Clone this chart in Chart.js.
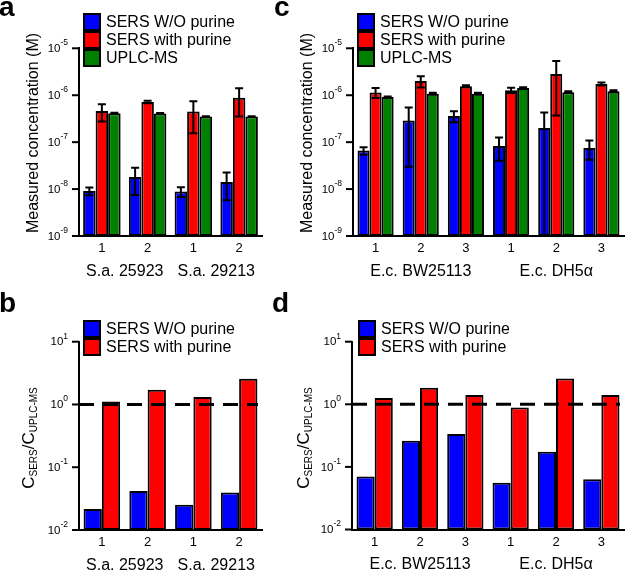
<!DOCTYPE html>
<html>
<head>
<meta charset="utf-8">
<script src="https://cdn.jsdelivr.net/npm/chart.js@4.4.1/dist/chart.umd.min.js"></script>
<style>
  body { margin: 0; background: #fff; }
  #page { position: relative; width: 627px; height: 571px; overflow: hidden; font-family: "Liberation Sans", Arial, sans-serif; color: #000; }
  canvas { position: absolute; }
  .letter { position: absolute; font-size: 28px; font-weight: bold; line-height: 28px; }
  .ytitle { position: absolute; white-space: nowrap; font-size: 16px; line-height: 18px; transform: translate(-50%, -50%) rotate(-90deg); }
  .ytitle .big { font-size: 17px; }
  .ytitle sub { font-size: 10px; vertical-align: -3px; }
  .lg-row { position: absolute; height: 18px; font-size: 16px; line-height: 18px; white-space: nowrap; }
  .lg-box { position: absolute; left: 0; top: 0; width: 18px; height: 18px; box-sizing: border-box; border: 2px solid #000; }
  .lg-text { position: absolute; left: 23px; top: 0; }
</style>
</head>
<body>
<div id="page">
  <canvas id="chartA" style="left:0px;top:0px"></canvas>
  <canvas id="chartC" style="left:300px;top:0px"></canvas>
  <canvas id="chartB" style="left:0px;top:290px"></canvas>
  <canvas id="chartD" style="left:300px;top:290px"></canvas>

  <div class="letter" style="left:-1px;top:-7px">a</div>
  <div class="letter" style="left:274px;top:-7px">c</div>
  <div class="letter" style="left:-1px;top:289px">b</div>
  <div class="letter" style="left:272px;top:289px">d</div>

  <div class="ytitle" style="left:33px;top:133px">Measured concentration (M)</div>
  <div class="ytitle" style="left:307px;top:133px">Measured concentration (M)</div>
  <div class="ytitle" style="left:31px;top:438px"><span class="big">C</span><sub>SERS</sub><span class="big">/C</span><sub>UPLC-MS</sub></div>
  <div class="ytitle" style="left:306px;top:438px"><span class="big">C</span><sub>SERS</sub><span class="big">/C</span><sub>UPLC-MS</sub></div>

  <div id="legendA"></div>
  <div id="legendC"></div>
  <div id="legendB"></div>
  <div id="legendD"></div>
</div>
<script>
// panel a - S. aureus, measured concentration (M)
const labelsA = ['1', '2', '1', '2'];
const groupsA = [['S.a. 25923', 2], ['S.a. 29213', 2]];
const sersWoA = [9.1e-9, 1.8e-8, 8.9e-9, 1.42e-8];
const sersWoErrA = [1.7e-9, 1.05e-8, 2.1e-9, 8.4e-9];
const sersWithA = [4.6e-7, 7.2e-7, 4.5e-7, 8.8e-7];
const sersWithErrA = [1.85e-7, 0.45e-7, 2.95e-7, 5.3e-7];
const uplcA = [4.15e-7, 4.1e-7, 3.5e-7, 3.5e-7];
const uplcErrA = [1e-8, 1e-8, 6e-9, 6e-9];

// panel c - E. coli, measured concentration (M)
const labelsC = ['1', '2', '3', '1', '2', '3'];
const groupsC = [['E.c. BW25113', 3], ['E.c. DH5α', 3]];
const sersWoC = [6.6e-8, 2.9e-7, 3.6e-7, 8.3e-8, 2.0e-7, 7.5e-8];
const sersWoErrC = [1.2e-8, 2.6e-7, 0.95e-7, 4.3e-8, 2.3e-7, 3.3e-8];
const sersWithC = [1.15e-6, 2.0e-6, 1.55e-6, 1.28e-6, 2.85e-6, 1.74e-6];
const sersWithErrC = [0.28e-6, 0.54e-6, 0.08e-6, 0.16e-6, 2.48e-6, 0.12e-6];
const uplcC = [9.2e-7, 1.08e-6, 1.08e-6, 1.43e-6, 1.16e-6, 1.22e-6];
const uplcErrC = [2e-8, 5e-8, 5e-8, 5e-8, 5e-8, 6e-8];

// panels b, d - ratio C_SERS / C_UPLC-MS
const ratioWoB = [0.0217, 0.0417, 0.0252, 0.0397];
const ratioWithB = [1.12, 1.72, 1.31, 2.58];
const ratioWoD = [0.070, 0.261, 0.334, 0.056, 0.174, 0.0634];
const ratioWithD = [1.26, 1.83, 1.41, 0.885, 2.58, 1.41];
const ratioRef = 1;

const BLUE = '#0000ff', RED = '#ff0000', GREEN = '#008000';
const FONT = '"Liberation Sans", Arial, sans-serif';

// y tick labels as 10 with a raised exponent, plus outward tick marks
const logTicks = {
    id: 'logTicks',
    afterDraw(chart) {
        const y = chart.scales.y, ctx = chart.ctx, a = chart.chartArea;
        const lo = Math.round(Math.log10(y.min)), hi = Math.round(Math.log10(y.max));
        ctx.save();
        ctx.strokeStyle = '#000';
        ctx.fillStyle = '#000';
        ctx.lineWidth = 2;
        ctx.textBaseline = 'middle';
        ctx.textAlign = 'left';
        for (let k = lo; k <= hi; k++) {
            const py = y.getPixelForValue(Math.pow(10, k));
            ctx.beginPath();
            ctx.moveTo(a.left - 7, py);
            ctx.lineTo(a.left, py);
            ctx.stroke();
            const exp = String(k);
            ctx.font = '8.5px ' + FONT;
            const ew = ctx.measureText(exp).width;
            ctx.font = '11.5px ' + FONT;
            const bw = ctx.measureText('10').width;
            const right = a.left - 11;
            ctx.fillText('10', right - ew - bw, py + 0.5);
            ctx.font = '8.5px ' + FONT;
            ctx.fillText(exp, right - ew, py - 5.5);
        }
        ctx.restore();
    }
};

// vertical error bars with caps
const errorBars = {
    id: 'errorBars',
    afterDatasetsDraw(chart) {
        const ctx = chart.ctx, y = chart.scales.y, a = chart.chartArea;
        ctx.save();
        ctx.strokeStyle = '#000';
        ctx.lineWidth = 2;
        chart.data.datasets.forEach((ds, di) => {
            if (!ds.errors) return;
            chart.getDatasetMeta(di).data.forEach((bar, i) => {
                const v = ds.data[i], e = ds.errors[i];
                const top = y.getPixelForValue(v + e);
                const hasLow = v - e > y.min;
                const low = hasLow ? y.getPixelForValue(v - e) : a.bottom;
                const cap = 4;
                ctx.beginPath();
                ctx.moveTo(bar.x, top);
                ctx.lineTo(bar.x, low);
                ctx.moveTo(bar.x - cap, top);
                ctx.lineTo(bar.x + cap, top);
                if (hasLow) {
                    ctx.moveTo(bar.x - cap, low);
                    ctx.lineTo(bar.x + cap, low);
                }
                ctx.stroke();
            });
        });
        ctx.restore();
    }
};

// strain names under the category ticks
const groupLabels = {
    id: 'groupLabels',
    afterDraw(chart, args, opts) {
        if (!opts.groups) return;
        const x = chart.scales.x, ctx = chart.ctx;
        let start = 0;
        ctx.save();
        ctx.font = '16px ' + FONT;
        ctx.fillStyle = '#000';
        ctx.textAlign = 'center';
        ctx.textBaseline = 'middle';
        opts.groups.forEach(([name, n]) => {
            const cx = (x.getPixelForTick(start) + x.getPixelForTick(start + n - 1)) / 2;
            ctx.fillText(name, cx, chart.chartArea.bottom + opts.offset);
            start += n;
        });
        ctx.restore();
    }
};

// dashed reference line (ratio = 1)
const refLine = {
    id: 'refLine',
    afterDatasetsDraw(chart, args, opts) {
        if (opts.value == null) return;
        const ctx = chart.ctx, a = chart.chartArea;
        const py = chart.scales.y.getPixelForValue(opts.value);
        ctx.save();
        ctx.strokeStyle = '#000';
        ctx.lineWidth = 3;
        ctx.setLineDash([15, 9]);
        ctx.beginPath();
        ctx.moveTo(a.left, py);
        ctx.lineTo(a.right - 4, py);
        ctx.stroke();
        ctx.restore();
    }
};

function makePanel(p) {
    const canvas = document.getElementById(p.id);
    canvas.width = p.w;
    canvas.height = p.h;
    return new Chart(canvas, {
        type: 'bar',
        data: { labels: p.labels, datasets: p.datasets },
        plugins: [logTicks, errorBars, groupLabels, refLine],
        options: {
            responsive: false,
            animation: false,
            devicePixelRatio: 1,
            layout: { padding: { left: 0, right: p.w - p.area.right, top: p.area.top, bottom: 0 } },
            datasets: {
                bar: { categoryPercentage: p.cat, barPercentage: 1, borderWidth: 2, borderColor: '#000', borderSkipped: false }
            },
            plugins: {
                legend: { display: false },
                tooltip: { enabled: false },
                groupLabels: { groups: p.groups, offset: 35.5 },
                refLine: { value: p.ref }
            },
            scales: {
                x: {
                    grid: { display: false, drawTicks: false },
                    border: { color: '#000', width: 2 },
                    ticks: { color: '#000', font: { family: FONT, size: 13 }, padding: 5 },
                    afterFit: s => { s.height = p.h - p.area.bottom; }
                },
                y: {
                    type: 'logarithmic',
                    min: p.min,
                    max: p.max,
                    grid: { display: false },
                    border: { color: '#000', width: 2 },
                    ticks: { display: false },
                    afterFit: s => { s.width = p.area.left; }
                }
            }
        }
    });
}

function makeLegend(id, left, top, datasets) {
    const host = document.getElementById(id);
    datasets.forEach((ds, i) => {
        const row = document.createElement('div');
        row.className = 'lg-row';
        row.style.left = left + 'px';
        row.style.top = (top + i * 18) + 'px';
        row.innerHTML = '<span class="lg-box" style="background:' + ds.backgroundColor + '"></span>' +
            '<span class="lg-text">' + ds.label + '</span>';
        host.appendChild(row);
    });
}

const dsA = [
    { label: 'SERS W/O purine', data: sersWoA, errors: sersWoErrA, backgroundColor: BLUE },
    { label: 'SERS with purine', data: sersWithA, errors: sersWithErrA, backgroundColor: RED },
    { label: 'UPLC-MS', data: uplcA, errors: uplcErrA, backgroundColor: GREEN }
];
const dsC = [
    { label: 'SERS W/O purine', data: sersWoC, errors: sersWoErrC, backgroundColor: BLUE },
    { label: 'SERS with purine', data: sersWithC, errors: sersWithErrC, backgroundColor: RED },
    { label: 'UPLC-MS', data: uplcC, errors: uplcErrC, backgroundColor: GREEN }
];
const dsB = [
    { label: 'SERS W/O purine', data: ratioWoB, backgroundColor: BLUE },
    { label: 'SERS with purine', data: ratioWithB, backgroundColor: RED }
];
const dsD = [
    { label: 'SERS W/O purine', data: ratioWoD, backgroundColor: BLUE },
    { label: 'SERS with purine', data: ratioWithD, backgroundColor: RED }
];

makePanel({ id: 'chartA', w: 300, h: 290, area: { left: 79, right: 262, top: 48.3, bottom: 236 },
    labels: labelsA, groups: groupsA, datasets: dsA, min: 1e-9, max: 1e-5, cat: 0.82 });
makePanel({ id: 'chartC', w: 327, h: 290, area: { left: 53, right: 324, top: 48.3, bottom: 236 },
    labels: labelsC, groups: groupsC, datasets: dsC, min: 1e-9, max: 1e-5, cat: 0.8 });
makePanel({ id: 'chartB', w: 300, h: 281, area: { left: 79, right: 262, top: 51.7, bottom: 240 },
    labels: labelsA, groups: groupsA, datasets: dsB, min: 1e-2, max: 1e1, cat: 0.8, ref: ratioRef });
makePanel({ id: 'chartD', w: 327, h: 281, area: { left: 52, right: 324, top: 51.7, bottom: 239.5 },
    labels: labelsC, groups: groupsC, datasets: dsD, min: 1e-2, max: 1e1, cat: 0.8, ref: ratioRef });

makeLegend('legendA', 83, 13, dsA);
makeLegend('legendC', 357, 13, dsC);
makeLegend('legendB', 83, 320, dsB);
makeLegend('legendD', 358, 320, dsD);
</script>
</body>
</html>
